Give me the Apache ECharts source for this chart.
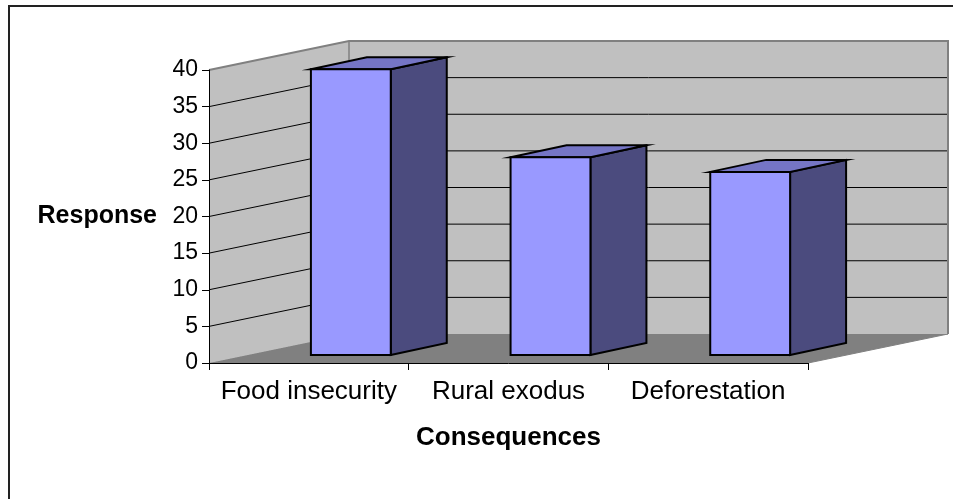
<!DOCTYPE html>
<html>
<head>
<meta charset="utf-8">
<script src="https://cdn.jsdelivr.net/npm/echarts@6/dist/echarts.min.js"></script>
<style>
  html, body { margin: 0; padding: 0; background: #fff; }
  #chart { width: 953px; height: 499px; }
</style>
</head>
<body>
<div id="chart"></div>
<script>
// Survey results: consequences and number of responses
const categories = ['Food insecurity', 'Rural exodus', 'Deforestation'];
const responses = [39, 27, 25];
const yMin = 0;
const yMax = 40;
const yStep = 5;

// Oblique projection offsets (pixels) for the 3D box and the columns
const WALL_DX = 140, WALL_DY = -29;   // full depth of the box
const BAR_FX = 42, BAR_FY = -8;       // column front face position in depth
const BAR_DX = 56, BAR_DY = -12;      // column depth
const BAR_WIDTH_RATIO = 0.4;

const FONT = '"Liberation Sans", Arial, sans-serif';

const chart = echarts.init(document.getElementById('chart'), null, { renderer: 'canvas' });

function renderBox(params, api) {
  const cs = params.coordSys;
  const x0 = cs.x, x1 = cs.x + cs.width;
  const yb = api.coord([0, yMin])[1];
  const yt = api.coord([0, yMax])[1];
  const children = [];
  // floor
  children.push({
    type: 'polygon',
    shape: { points: [[x0, yb], [x1, yb], [x1 + WALL_DX, yb + WALL_DY], [x0 + WALL_DX, yb + WALL_DY]] },
    style: { fill: '#808080', stroke: '#808080', lineWidth: 1 }
  });
  // left side wall
  children.push({
    type: 'polygon',
    shape: { points: [[x0, yt], [x0, yb], [x0 + WALL_DX, yb + WALL_DY], [x0 + WALL_DX, yt + WALL_DY]] },
    style: { fill: '#C0C0C0', stroke: null }
  });
  // back wall
  children.push({
    type: 'polygon',
    shape: { points: [[x0 + WALL_DX, yt + WALL_DY], [x1 + WALL_DX, yt + WALL_DY], [x1 + WALL_DX, yb + WALL_DY], [x0 + WALL_DX, yb + WALL_DY]] },
    style: { fill: '#C0C0C0', stroke: null }
  });
  // gridlines across both walls
  for (let v = yMin + yStep; v < yMax; v += yStep) {
    const y = api.coord([0, v])[1];
    children.push({
      type: 'polyline',
      shape: { points: [[x0, y], [x0 + WALL_DX, y + WALL_DY], [x1 + WALL_DX, y + WALL_DY]] },
      style: { stroke: '#000', lineWidth: 1, fill: null }
    });
  }
  // wall edges
  children.push({
    type: 'polyline',
    shape: { points: [[x0, yt], [x0 + WALL_DX, yt + WALL_DY], [x1 + WALL_DX, yt + WALL_DY], [x1 + WALL_DX, yb + WALL_DY]] },
    style: { stroke: '#808080', lineWidth: 2, fill: null }
  });
  children.push({
    type: 'line',
    shape: { x1: x0 + WALL_DX, y1: yt + WALL_DY, x2: x0 + WALL_DX, y2: yb + WALL_DY },
    style: { stroke: '#808080', lineWidth: 1.5 }
  });
  return { type: 'group', children: children };
}

function renderBar(params, api) {
  const idx = api.value(0);
  const val = api.value(1);
  const cx = api.coord([idx, 0])[0];
  const w = api.size([1, 0])[0] * BAR_WIDTH_RATIO;
  const L = cx + BAR_FX - w / 2;
  const R = L + w;
  const ft = api.coord([idx, val])[1] + BAR_FY;
  const fb = api.coord([idx, yMin])[1] + BAR_FY;
  const stroke = { stroke: '#000', lineWidth: 2, lineJoin: 'miter' };
  return {
    type: 'group',
    children: [
      {
        type: 'polygon',
        shape: { points: [[R, ft], [R + BAR_DX, ft + BAR_DY], [R + BAR_DX, fb + BAR_DY], [R, fb]] },
        style: Object.assign({ fill: '#4B4B7E' }, stroke)
      },
      {
        type: 'polygon',
        shape: { points: [[L, ft], [L + BAR_DX, ft + BAR_DY], [R + BAR_DX, ft + BAR_DY], [R, ft]] },
        style: Object.assign({ fill: '#7575C5' }, stroke)
      },
      {
        type: 'polygon',
        shape: { points: [[L, ft], [R, ft], [R, fb], [L, fb]] },
        style: Object.assign({ fill: '#9999FF' }, stroke)
      }
    ]
  };
}

const option = {
  animation: false,
  backgroundColor: '#fff',
  textStyle: { fontFamily: FONT },
  graphic: [{
    type: 'rect',
    z: -10,
    shape: { x: 9, y: 6, width: 1000, height: 1000 },
    style: { fill: null, stroke: '#222', lineWidth: 2 }
  }],
  grid: { left: 209, top: 70, width: 599, height: 293, containLabel: false },
  xAxis: {
    type: 'category',
    data: categories,
    z: 10,
    name: 'Consequences',
    nameLocation: 'middle',
    nameGap: 62,
    nameTextStyle: { fontFamily: FONT, fontSize: 26, fontWeight: 'bold', color: '#000' },
    axisLine: { show: true, lineStyle: { color: '#000', width: 1 } },
    axisTick: { show: true, length: 7, lineStyle: { color: '#000' } },
    axisLabel: { interval: 0, margin: 16, fontFamily: FONT, fontSize: 26, color: '#000' },
    splitLine: { show: false }
  },
  yAxis: {
    type: 'value',
    min: yMin,
    max: yMax,
    interval: yStep,
    z: 10,
    name: 'Response',
    nameLocation: 'middle',
    nameRotate: 0,
    nameGap: 52,
    nameTextStyle: { fontFamily: FONT, fontSize: 25, fontWeight: 'bold', color: '#000' },
    axisLine: { show: true, lineStyle: { color: '#000', width: 1 } },
    axisTick: { show: true, length: 7, lineStyle: { color: '#000' } },
    axisLabel: { margin: 11, fontFamily: FONT, fontSize: 23, color: '#000' },
    splitLine: { show: false }
  },
  series: [
    {
      type: 'custom',
      name: 'box',
      z: 1,
      silent: true,
      renderItem: renderBox,
      data: [[0, 0]]
    },
    {
      type: 'custom',
      name: 'Response',
      z: 3,
      renderItem: renderBar,
      encode: { x: 0, y: 1 },
      data: responses.map(function (v, i) { return [i, v]; })
    }
  ]
};

chart.setOption(option);
</script>
</body>
</html>
